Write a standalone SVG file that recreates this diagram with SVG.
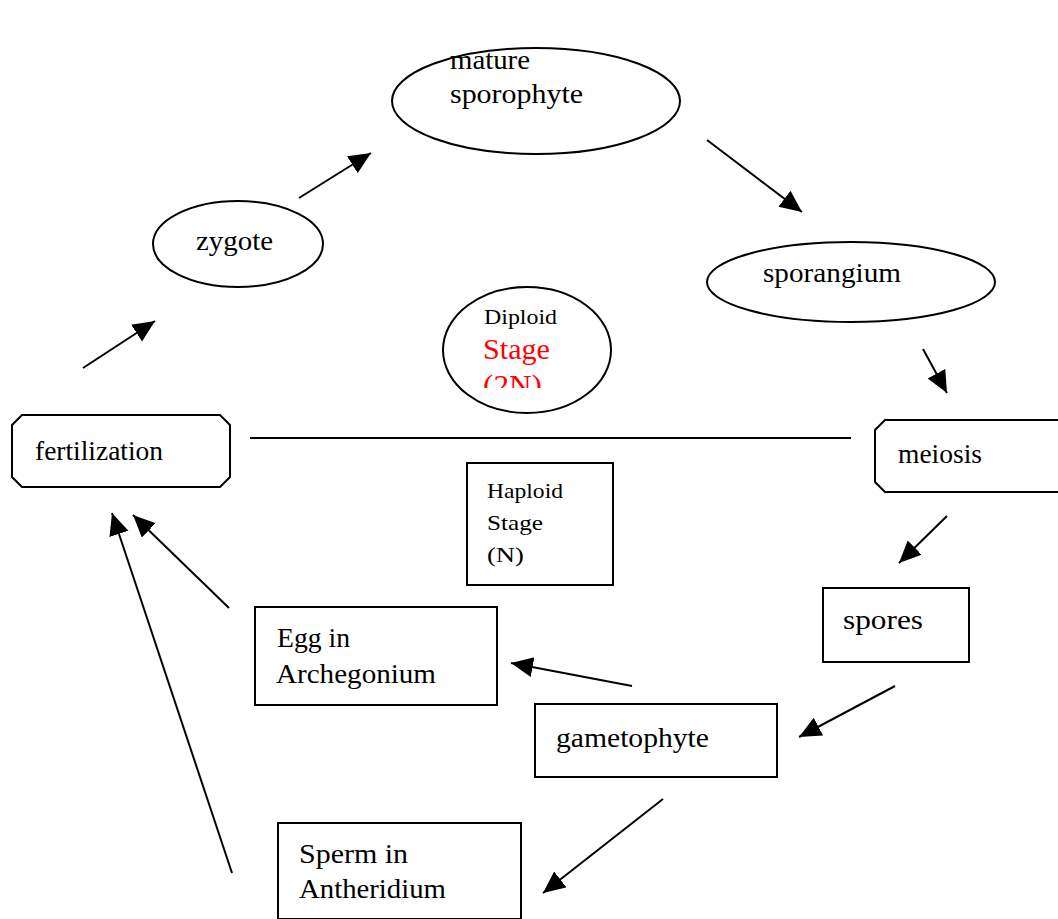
<svg xmlns="http://www.w3.org/2000/svg" width="1058" height="919" viewBox="0 0 1058 919">
  <style>
    .shape { fill: #fff; stroke: #000; stroke-width: 2; }
    .lbl { font-family: "Liberation Serif", "Times New Roman", serif; font-size: 27px; fill: #000; }
    .sm { font-family: "Liberation Serif", "Times New Roman", serif; font-size: 22px; fill: #000; }
    .big { font-family: "Liberation Serif", "Times New Roman", serif; font-size: 29px; fill: #ff0000; }
    .conn line { stroke: #000; stroke-width: 2; }
  </style>
  <defs>
    <marker id="head" markerUnits="userSpaceOnUse" markerWidth="26" markerHeight="22" refX="22" refY="10" orient="auto">
      <path d="M0,0 L22,10 L0,20 Z" fill="#000"/>
    </marker>
    <clipPath id="diploidClip">
      <rect x="440" y="290" width="180" height="98"/>
    </clipPath>
  </defs>
  <rect width="1058" height="919" fill="#fff"/>

  <g id="mature-sporophyte">
    <ellipse class="shape" cx="536" cy="101" rx="144" ry="53"/>
    <text class="lbl" x="450" y="69" textLength="80" lengthAdjust="spacingAndGlyphs">mature</text>
    <text class="lbl" x="450" y="103" textLength="133" lengthAdjust="spacingAndGlyphs">sporophyte</text>
  </g>

  <g id="zygote">
    <ellipse class="shape" cx="238" cy="244" rx="85" ry="43"/>
    <text class="lbl" x="196" y="250" textLength="77" lengthAdjust="spacingAndGlyphs">zygote</text>
  </g>

  <g id="sporangium">
    <ellipse class="shape" cx="851" cy="282" rx="144" ry="40"/>
    <text class="lbl" x="763" y="282" textLength="138" lengthAdjust="spacingAndGlyphs">sporangium</text>
  </g>

  <g id="diploid-stage">
    <ellipse class="shape" cx="527" cy="350" rx="84" ry="63"/>
    <g clip-path="url(#diploidClip)">
      <text class="sm" x="484" y="324" textLength="73" lengthAdjust="spacingAndGlyphs">Diploid</text>
      <text class="big" x="483" y="359" textLength="67" lengthAdjust="spacingAndGlyphs">Stage</text>
      <text class="big" x="483" y="395" textLength="59" lengthAdjust="spacingAndGlyphs">(2N)</text>
    </g>
  </g>

  <g id="fertilization">
    <path class="shape" d="M22,415 L220,415 L230,425 L230,477 L220,487 L22,487 L12,477 L12,425 Z"/>
    <text class="lbl" x="35" y="460" textLength="128" lengthAdjust="spacingAndGlyphs">fertilization</text>
  </g>

  <g id="meiosis">
    <path class="shape" d="M885,420 L1060,420 L1060,492 L885,492 L875,482 L875,430 Z"/>
    <text class="lbl" x="898" y="463" textLength="84" lengthAdjust="spacingAndGlyphs">meiosis</text>
  </g>

  <g id="haploid-stage">
    <rect class="shape" x="467" y="463" width="146" height="122"/>
    <text class="sm" x="487" y="498" textLength="76" lengthAdjust="spacingAndGlyphs">Haploid</text>
    <text class="sm" x="487" y="530" textLength="56" lengthAdjust="spacingAndGlyphs">Stage</text>
    <text class="sm" x="487" y="562" textLength="37" lengthAdjust="spacingAndGlyphs">(N)</text>
  </g>

  <g id="spores">
    <rect class="shape" x="823" y="588" width="146" height="74"/>
    <text class="lbl" x="843" y="629" textLength="80" lengthAdjust="spacingAndGlyphs">spores</text>
  </g>

  <g id="egg">
    <rect class="shape" x="255" y="607" width="242" height="98"/>
    <text class="lbl" x="277" y="647" textLength="73" lengthAdjust="spacingAndGlyphs">Egg in</text>
    <text class="lbl" x="276" y="683" textLength="160" lengthAdjust="spacingAndGlyphs">Archegonium</text>
  </g>

  <g id="gametophyte">
    <rect class="shape" x="535" y="704" width="242" height="73"/>
    <text class="lbl" x="556" y="747" textLength="153" lengthAdjust="spacingAndGlyphs">gametophyte</text>
  </g>

  <g id="sperm">
    <rect class="shape" x="278" y="823" width="243" height="96"/>
    <text class="lbl" x="299" y="863" textLength="109" lengthAdjust="spacingAndGlyphs">Sperm in</text>
    <text class="lbl" x="299" y="898" textLength="147" lengthAdjust="spacingAndGlyphs">Antheridium</text>
  </g>

  <g id="connectors" class="conn">
    <line x1="250" y1="438" x2="851" y2="438"/>
    <line x1="83" y1="368" x2="155" y2="321" marker-end="url(#head)"/>
    <line x1="299" y1="198" x2="371" y2="153" marker-end="url(#head)"/>
    <line x1="707" y1="140" x2="802" y2="212" marker-end="url(#head)"/>
    <line x1="923" y1="349" x2="947" y2="393" marker-end="url(#head)"/>
    <line x1="947" y1="516" x2="899" y2="563" marker-end="url(#head)"/>
    <line x1="895" y1="686" x2="799" y2="737" marker-end="url(#head)"/>
    <line x1="632" y1="686" x2="511" y2="663" marker-end="url(#head)"/>
    <line x1="663" y1="799" x2="543" y2="893" marker-end="url(#head)"/>
    <line x1="229" y1="608" x2="133" y2="515" marker-end="url(#head)"/>
    <line x1="232" y1="873" x2="112" y2="513" marker-end="url(#head)"/>
  </g>
</svg>
